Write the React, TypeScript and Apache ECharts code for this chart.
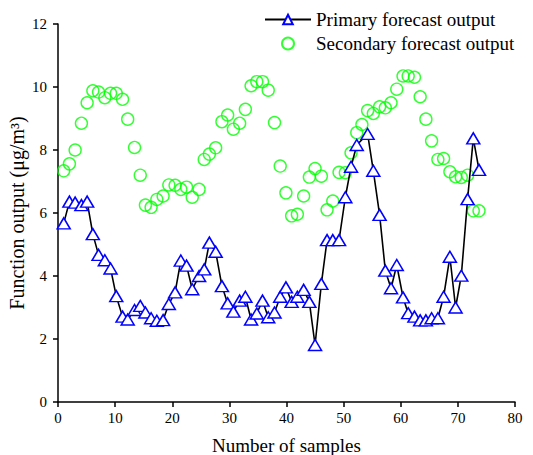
import React, { useEffect, useRef } from "react";
import * as echarts from "echarts";

// sample positions (shared by both series)
const samples = [
  1.0, 2.0, 3.0, 4.1, 5.1, 6.1, 7.1, 8.2, 9.2, 10.2,
  11.3, 12.2, 13.4, 14.4, 15.3, 16.3, 17.3, 18.4, 19.4, 20.5,
  21.5, 22.5, 23.5, 24.7, 25.6, 26.5, 27.6, 28.7, 29.7, 30.7,
  31.8, 32.8, 33.8, 34.8, 35.8, 36.8, 37.9, 38.9, 39.9, 40.9,
  41.9, 43.0, 44.0, 45.0, 46.1, 47.1, 48.1, 49.2, 50.3, 51.3,
  52.3, 53.2, 54.2, 55.2, 56.3, 57.3, 58.3, 59.3, 60.4, 61.3,
  62.4, 63.4, 64.4, 65.4, 66.5, 67.5, 68.6, 69.6, 70.6, 71.7,
  72.7, 73.7,
];

const primary: (number | null)[] = [
  5.67, 6.36, 6.33, 6.25, 6.36, 5.33, 4.67, 4.5, 4.24, 3.36,
  2.71, 2.62, 2.92, 3.05, 2.84, 2.66, 2.58, 2.6, 3.11, 3.48,
  4.49, 4.33, 3.58, 4.0, 4.21, 5.06, 4.77, 3.68, 3.13, 2.87,
  3.22, 3.34, 2.62, 2.81, 3.22, 2.69, 2.84, 3.34, 3.64, 3.18,
  3.34, 3.56, 3.18, 1.81, 3.75, 5.14, 5.14, 5.14, 6.5, 7.47,
  8.16, null, 8.51, 7.34, 5.94, 4.17, 3.61, 4.35, 3.32, 2.82,
  2.71, 2.59, 2.59, 2.66, 2.66, 3.34, 4.61, 3.0, 4.01, 6.44,
  8.37, 7.37,
];

const secondary = [
  7.34, 7.56, 8.0, 8.85, 9.5, 9.88, 9.84, 9.66, 9.8, 9.8,
  9.61, 8.98, 8.08, 7.2, 6.25, 6.18, 6.43, 6.54, 6.89, 6.88,
  6.75, 6.82, 6.5, 6.75, 7.7, 7.87, 8.07, 8.9, 9.11, 8.66,
  8.85, 9.29, 10.04, 10.17, 10.17, 9.9, 8.87, 7.49, 6.64, 5.91,
  5.96, 6.54, 7.14, 7.41, 7.17, 6.1, 6.38, 7.29, 7.28, 7.91,
  8.55, 8.81, 9.25, 9.16, 9.37, 9.34, 9.5, 9.93, 10.35, 10.35,
  10.31, 9.69, 8.98, 8.29, 7.7, 7.73, 7.31, 7.15, 7.13, 7.2,
  6.07, 6.07,
];

const seriesNames = ["Primary forecast output", "Secondary forecast output"];
const xAxisTitle = "Number of samples";
const yAxisTitle = "Function output (μg/m³)";

const FONT = "Liberation Serif, serif";

export default function App() {
  const ref = useRef<HTMLDivElement>(null);
  useEffect(() => {
    if (!ref.current) return;
    const chart = echarts.init(ref.current, undefined, { renderer: "svg" });
    const primaryData = samples.map((x, i) => [x, primary[i]]);
    const secondaryData = samples.map((x, i) => [x, secondary[i]]);
    chart.setOption({
      animation: false,
      backgroundColor: "#fff",
      textStyle: { fontFamily: FONT },
      grid: {
        left: 58,
        right: 18,
        top: 24,
        bottom: 53,
        containLabel: false,
        outerBoundsMode: "none",
      },
      legend: {
        orient: "vertical",
        left: 259,
        top: 5,
        itemWidth: 46,
        itemHeight: 12,
        itemGap: 5,
        textStyle: { fontFamily: FONT, fontSize: 19, color: "#000" },
        data: [
          { name: seriesNames[0] },
          { name: seriesNames[1] },
        ],
      },
      xAxis: {
        type: "value",
        min: 0,
        max: 80,
        interval: 10,
        name: xAxisTitle,
        nameLocation: "middle",
        nameGap: 34,
        nameMoveOverlap: false,
        nameTextStyle: { fontFamily: FONT, fontSize: 19, color: "#000" },
        axisLine: { show: true, lineStyle: { color: "#000", width: 1.5 } },
        axisTick: { show: true, inside: false, length: 5, lineStyle: { color: "#000", width: 1.5 } },
        axisLabel: { fontFamily: FONT, fontSize: 15, color: "#000", margin: 8 },
        splitLine: { show: false },
      },
      yAxis: {
        type: "value",
        min: 0,
        max: 12,
        interval: 2,
        name: yAxisTitle,
        nameLocation: "middle",
        nameGap: 31,
        nameMoveOverlap: false,
        nameRotate: 90,
        nameTextStyle: { fontFamily: FONT, fontSize: 20, color: "#000" },
        axisLine: { show: true, lineStyle: { color: "#000", width: 1.5 } },
        axisTick: { show: true, inside: false, length: 5, lineStyle: { color: "#000", width: 1.5 } },
        axisLabel: { fontFamily: FONT, fontSize: 15, color: "#000", margin: 11 },
        splitLine: { show: false },
      },
      series: [
        {
          name: seriesNames[1],
          type: "scatter",
          data: secondaryData,
          symbol: "circle",
          symbolSize: 12,
          z: 2,
          itemStyle: { color: "rgba(0,0,0,0)", borderColor: "#00ff00", borderWidth: 1.4 },
        },
        {
          name: seriesNames[0],
          type: "line",
          data: primaryData,
          connectNulls: true,
          symbol: "triangle",
          symbolSize: [13, 11],
          showAllSymbol: true,
          z: 3,
          lineStyle: { color: "#000", width: 1.6 },
          itemStyle: { color: "#fff", borderColor: "#0000ff", borderWidth: 1.5 },
        },
      ],
    });
    return () => chart.dispose();
  }, []);
  return (
    <div
      ref={ref}
      style={{ position: "fixed", left: 0, top: 0, width: 533, height: 455 }}
    />
  );
}
